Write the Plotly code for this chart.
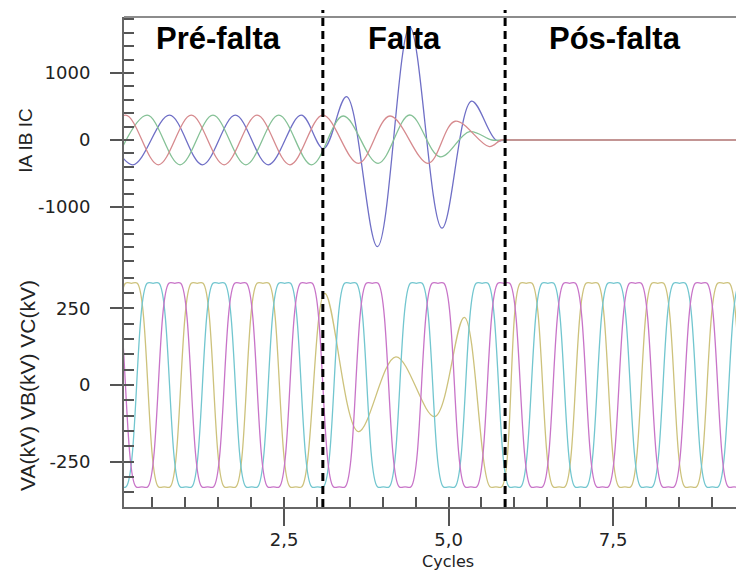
import plotly.graph_objects as go

# ---------------- data (time in cycles) ----------------
# phase currents (A) : key points (peaks / troughs / settle points)
ia_t = [-0.41, 0.09, 0.59, 1.09, 1.59, 2.09, 2.59, 3.09, 3.63, 4.11, 4.69, 5.10, 5.62, 5.80, 5.95, 9.60]
ia_v = [-370, 370, -370, 370, -370, 370, -370, 370, -348, 358, -348, 280, -100, 0, 0, 0]

ib_t = [-0.08, 0.42, 0.92, 1.42, 1.92, 2.42, 2.92, 3.40, 3.93, 4.41, 4.87, 5.32, 5.66, 5.84, 9.60]
ib_v = [-370, 370, -370, 370, -370, 370, -370, 358, -348, 373, -250, 124, 0, 0, 0]

ic_t = [-0.30, 0.20, 0.76, 1.26, 1.76, 2.26, 2.76, 3.10, 3.45, 3.92, 4.41, 4.90, 5.35, 5.72, 5.88, 9.60]
ic_v = [370, -370, 370, -370, 370, -370, 370, -130, 646, -1592, 1690, -1316, 580, 0, 0, 0]

# phase voltages (kV) : key points; +/-332 = recorder saturation (flat tops)
va_t = [-0.32, 0.18, 0.68, 1.18, 1.68, 2.18, 2.68, 3.12, 3.63, 4.20, 4.79, 5.24, 5.72,
        6.18, 6.68, 7.18, 7.68, 8.18, 8.68, 9.18, 9.68]
va_v = [-332, 332, -332, 332, -332, 332, -332, 299, -152, 92, -103, 221, -332,
        332, -332, 332, -332, 332, -332, 332, -332]

vb_t = [-0.49, 0.01, 0.51, 1.01, 1.51, 2.01, 2.51, 3.01, 3.51, 4.01, 4.51, 5.01, 5.51,
        6.01, 6.51, 7.01, 7.51, 8.01, 8.51, 9.01, 9.51]
vb_v = [332, -332, 332, -332, 332, -332, 332, -332, 332, -332, 332, -332, 332,
        -332, 332, -332, 332, -332, 332, -332, 332]

vc_t = [-0.16, 0.34, 0.84, 1.34, 1.84, 2.34, 2.84, 3.34, 3.84, 4.34, 4.84, 5.34, 5.84,
        6.34, 6.84, 7.34, 7.84, 8.34, 8.84, 9.34, 9.84]
vc_v = [332, -332, 332, -332, 332, -332, 332, -332, 332, -332, 332, -332, 332,
        -332, 332, -332, 332, -332, 332, -332, 332]
v_saturation = 332
sat_halfwidth = 0.09      # cycles the recorder stays saturated either side of an extreme

fault_bounds = [3.09, 5.86]
stage_labels = ["Pré-falta", "Falta", "Pós-falta"]
stage_label_x = [1.51, 4.33, 7.53]

x_tickvals = [2.5, 5.0, 7.5]
x_ticktext = ["2,5", "5,0", "7,5"]
x_title = "Cycles"
x_title_pos = 4.99
i_tickvals = [-1000, 0, 1000]
i_ticktext = ["-1000", "0", "1000"]
v_tickvals = [-250, 0, 250]
v_ticktext = ["-250", "0", "250"]


def saturated(ts, vs):
    """hold saturated extremes flat for the saturation width"""
    xo, yo = [], []
    for t, v in zip(ts, vs):
        if abs(v) >= v_saturation:
            xo += [t - sat_halfwidth, t, t + sat_halfwidth]
            yo += [v, v, v]
        else:
            xo.append(t)
            yo.append(v)
    return xo, yo


# ---------------- layout geometry ----------------
W, H = 736, 571
ml, mr, mt, mb = 124, 0, 17, 64
x_range = [0.068, 9.369]
i_range = [-1851, 1836]
v_range = [-398, 395]
split = 243 / 490.0          # bottom panel share of plot height

tickfont = dict(family="DejaVu Sans", size=18, color="#222222")
axcol = "#666666"
tkcol = "#555555"

fig = go.Figure()

cur_colors = {"IC": "#6f6fc6", "IB": "#85c196", "IA": "#d68a8e"}
for name, t, v in [("IC", ic_t, ic_v), ("IB", ib_t, ib_v), ("IA", ia_t, ia_v)]:
    fig.add_trace(go.Scatter(x=t, y=v, mode="lines", name=name,
                             line=dict(shape="spline", smoothing=1, color=cur_colors[name], width=1.3),
                             xaxis="x", yaxis="y", showlegend=False))

volt_colors = {"VA": "#cdc27c", "VB": "#72c6cf", "VC": "#c874c8"}
for name, t, v in [("VA", va_t, va_v), ("VB", vb_t, vb_v), ("VC", vc_t, vc_v)]:
    xs, ys = saturated(t, v)
    fig.add_trace(go.Scatter(x=xs, y=ys, mode="lines", name=name,
                             line=dict(shape="spline", smoothing=1, color=volt_colors[name], width=1.3),
                             xaxis="x2", yaxis="y2", showlegend=False))

shapes = []
for b in fault_bounds:
    shapes.append(dict(type="line", xref="x2", yref="paper", x0=b, x1=b, y0=0, y1=1.0143,
                       line=dict(color="black", width=3, dash="8px,5px"), layer="above"))
shapes.append(dict(type="line", xref="paper", yref="paper", x0=0, x1=1, y0=1, y1=1,
                   line=dict(color="#8c8c8c", width=2), layer="above"))

annotations = []
for lab, x in zip(stage_labels, stage_label_x):
    annotations.append(dict(x=x, y=0.957, xref="x2", yref="paper", text=lab, showarrow=False,
                            xanchor="center", yanchor="middle",
                            font=dict(family="Liberation Sans, Arial", size=31, color="black", weight="bold")))
annotations.append(dict(x=x_title_pos, y=-0.111, xref="x2", yref="paper", text=x_title, showarrow=False,
                        xanchor="center", yanchor="middle",
                        font=dict(family="DejaVu Sans", size=16, color="#222222")))

fig.update_layout(
    width=W, height=H,
    margin=dict(l=ml, r=mr, t=mt, b=mb),
    paper_bgcolor="white", plot_bgcolor="white",
    shapes=shapes, annotations=annotations,
    # upper panel x axis (shares range with bottom one, no ticks)
    xaxis=dict(domain=[0, 1], range=x_range, anchor="y", matches="x2",
               showline=False, showgrid=False, zeroline=False,
               showticklabels=False, ticks=""),
    # bottom x axis with the ticks
    xaxis2=dict(domain=[0, 1], range=x_range, anchor="y2",
                showline=True, linecolor=axcol, linewidth=2,
                showgrid=False, zeroline=False,
                tickmode="array", tickvals=x_tickvals, ticktext=x_ticktext,
                ticks="outside", ticklen=17, tickwidth=2, tickcolor=tkcol,
                ticklabelstandoff=-2, tickfont=tickfont,
                minor=dict(ticks="inside", ticklen=10, tickwidth=1.5, tickcolor=tkcol,
                           tickmode="linear", tick0=0, dtick=0.5, showgrid=False)),
    yaxis=dict(domain=[split, 1], range=i_range, anchor="x",
               showline=True, linecolor=axcol, linewidth=2,
               showgrid=False, zeroline=False,
               tickmode="array", tickvals=i_tickvals, ticktext=i_ticktext,
               ticks="outside", ticklen=12, tickwidth=1.5, tickcolor=tkcol,
               ticklabelstandoff=16, tickfont=tickfont,
               minor=dict(ticks="inside", ticklen=10, tickwidth=1.5, tickcolor=tkcol,
                          tickmode="linear", tick0=0, dtick=200, showgrid=False),
               title=dict(text="IA IB IC", font=dict(family="Liberation Sans, Arial", size=19, color="#222222"),
                          standoff=0)),
    yaxis2=dict(domain=[0, split], range=v_range, anchor="x2",
                showline=True, linecolor=axcol, linewidth=2,
                showgrid=False, zeroline=False,
                tickmode="array", tickvals=v_tickvals, ticktext=v_ticktext,
                ticks="outside", ticklen=12, tickwidth=1.5, tickcolor=tkcol,
                ticklabelstandoff=16, tickfont=tickfont,
                minor=dict(ticks="inside", ticklen=10, tickwidth=1.5, tickcolor=tkcol,
                           tickmode="linear", tick0=0, dtick=50, showgrid=False),
                title=dict(text="VA(kV) VB(kV) VC(kV)",
                           font=dict(family="Liberation Sans, Arial", size=21, color="#222222"),
                           standoff=8)),
)

fig.write_html("out.html")
